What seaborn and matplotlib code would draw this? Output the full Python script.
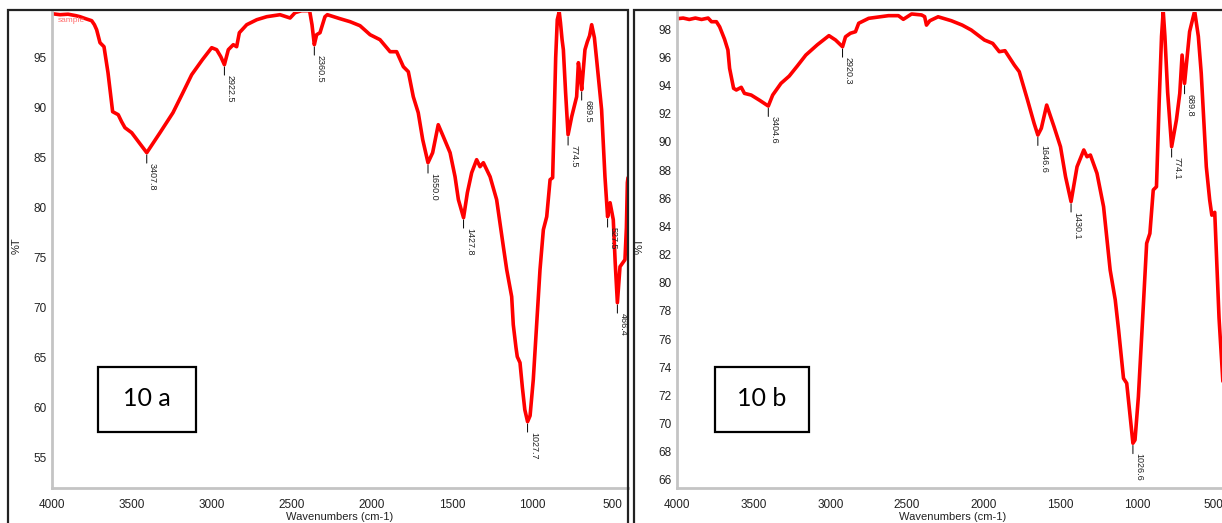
import numpy as np
import pandas as pd
import matplotlib
matplotlib.use("Agg")
import matplotlib.pyplot as plt
from matplotlib.patches import Rectangle
from matplotlib.ticker import MultipleLocator, FixedLocator
import seaborn as sns

# ---------------- data ----------------
wn_a = [4000, 3950, 3900, 3850, 3825, 3790, 3752, 3735, 3721, 3700, 3675, 3650, 3621, 3586,
        3565, 3544, 3502, 3455, 3407.8, 3325, 3244, 3185, 3127, 3060, 3002, 2971, 2945,
        2922.5, 2898, 2867, 2846, 2829, 2783, 2720, 2658, 2575, 2512, 2481, 2440, 2390,
        2375, 2360.5, 2346, 2325, 2294, 2279, 2200, 2137, 2075, 2012, 1950, 1887, 1846,
        1804, 1773, 1742, 1711, 1683, 1650.0, 1621, 1586, 1554, 1512, 1481, 1460, 1427.8,
        1404, 1377, 1346, 1325, 1304, 1262, 1221, 1179, 1158, 1127, 1117, 1100, 1092, 1075,
        1060, 1045, 1027.7, 1012, 992, 971, 950, 929, 908, 887, 871, 862, 852, 842, 830,
        822, 812, 804, 790, 774.5, 752, 721, 710, 700, 689.5, 669, 654, 640, 627, 610, 596,
        565, 544, 527.5, 512, 492, 480, 466.4, 450, 419, 410, 404, 400]
t_a = [99.4, 99.3, 99.35, 99.2, 99.1, 98.9, 98.7, 98.3, 97.8, 96.5, 96.1, 93.5, 89.6, 89.3,
       88.6, 88.0, 87.5, 86.5, 85.5, 87.5, 89.5, 91.4, 93.3, 94.8, 96.0, 95.8, 95.1,
       94.3, 95.8, 96.3, 96.1, 97.5, 98.3, 98.8, 99.1, 99.3, 98.97, 99.5, 99.7, 99.7,
       98.3, 96.3, 97.3, 97.5, 99.1, 99.3, 98.9, 98.6, 98.2, 97.3, 96.8, 95.6, 95.6,
       94.1, 93.6, 91.1, 89.5, 86.8, 84.5, 85.5, 88.3, 87.1, 85.5, 83.1, 80.8, 79.0,
       81.5, 83.5, 84.8, 84.1, 84.5, 83.1, 80.8, 76.1, 73.8, 71.1, 68.3, 66.0, 65.1, 64.5,
       62.0, 59.8, 58.6, 59.2, 62.8, 68.3, 73.8, 77.8, 79.1, 82.8, 83.0, 88.5, 95.0, 98.8, 99.6,
       98.5, 96.8, 95.8, 91.5, 87.3, 89.1, 91.1, 94.5, 93.3, 91.8, 95.8, 96.6, 97.2, 98.3, 97.0, 94.8,
       89.8, 83.1, 79.1, 80.5, 78.8, 74.5, 70.5, 74.1, 74.8, 78.0, 82.5, 83.0]
peaks_a = [3407.8, 2922.5, 2360.5, 1650.0, 1427.8, 1027.7, 774.5, 689.5, 527.5, 466.4]
peak_labels_a = ["3407.8", "2922.5", "2360.5", "1650.0", "1427.8", "1027.7",
                 "774.5", "689.5", "527.5", "466.4"]

wn_b = [4000, 3960, 3920, 3880, 3840, 3797, 3775, 3743, 3722, 3690, 3668, 3657, 3631, 3613,
        3581, 3560, 3516, 3460, 3404.6, 3376, 3322, 3268, 3215, 3160, 3085, 3009, 2966,
        2920.3, 2901, 2869, 2836, 2815, 2750, 2621, 2556, 2524, 2470, 2405, 2385, 2373,
        2351, 2297, 2211, 2140, 2081, 1995, 1941, 1898, 1861, 1800, 1768, 1714, 1671,
        1646.6, 1624, 1589, 1541, 1499, 1466, 1430.1, 1391, 1347, 1326, 1304, 1261, 1218,
        1175, 1142, 1120, 1088, 1067, 1026.6, 1013, 991, 963, 937, 916, 894, 873, 855, 840,
        829, 818, 800, 774.1, 743, 721, 706, 689.8, 657, 624, 600, 581, 548, 526, 512, 493,
        480, 465, 440]
t_b = [98.75, 98.8, 98.7, 98.8, 98.7, 98.8, 98.54, 98.54, 98.18, 97.3, 96.53, 95.23, 93.81, 93.69,
       93.88, 93.45, 93.33, 92.95, 92.55, 93.33, 94.16, 94.68, 95.4, 96.17, 96.9, 97.55, 97.24,
       96.76, 97.47, 97.72, 97.83, 98.43, 98.78, 98.97, 98.97, 98.71, 99.09, 99.02, 98.9, 98.3,
       98.61, 98.89, 98.61, 98.3, 97.95, 97.24, 97.0, 96.41, 96.48, 95.46, 94.99, 92.98, 91.32,
       90.49, 90.97, 92.62, 91.08, 89.66, 87.53, 85.76, 88.24, 89.43, 88.95, 89.07, 87.77, 85.4,
       80.9, 78.79, 76.64, 73.21, 72.86, 68.6, 68.83, 71.9, 77.5, 82.8, 83.5, 86.59, 86.82, 92.98, 97.5,
       99.3, 97.5, 93.5, 89.66, 91.56, 93.45, 96.17, 94.16, 97.83, 99.3, 97.5, 94.87, 88.24, 85.88, 84.8, 85.0,
       81.5, 77.5, 73.0]
peaks_b = [3404.6, 2920.3, 1646.6, 1430.1, 1026.6, 774.1, 689.8]
peak_labels_b = ["3404.6", "2920.3", "1646.6", "1430.1", "1026.6", "774.1", "689.8"]

x_ticks = [4000, 3500, 3000, 2500, 2000, 1500, 1000, 500]
y_ticks_a = [55, 60, 65, 70, 75, 80, 85, 90, 95]
y_ticks_b = [66, 68, 70, 72, 74, 76, 78, 80, 82, 84, 86, 88, 90, 92, 94, 96, 98]
panel_labels = ["10 a", "10 b"]

# ---------------- style ----------------
sns.set_style("white")
plt.rcParams["font.family"] = ["Liberation Sans Narrow", "Liberation Sans", "DejaVu Sans"]

W, H = 1222, 523
fig = plt.figure(figsize=(W / 100, H / 100), dpi=100)


def fr(x0, y0, x1, y1):
    return [x0 / W, 1 - y1 / H, (x1 - x0) / W, (y1 - y0) / H]


axA = fig.add_axes(fr(52, 12, 628, 488))
axB = fig.add_axes(fr(677, 12, 1229, 488))

spec = [
    (axA, wn_a, t_a, peaks_a, peak_labels_a, y_ticks_a, 1, (51.97, 99.57), -0.052),
    (axB, wn_b, t_b, peaks_b, peak_labels_b, y_ticks_b, 0.5, (65.42, 99.23), -0.058),
]

for ax, wn, tt, pk, pkl, yt, ymin, ylim, ylab_x in spec:
    df = pd.DataFrame({"Wavenumber": wn, "T": tt})
    sns.lineplot(data=df, x="Wavenumber", y="T", ax=ax, color="#ff0000",
                 linewidth=2.6, sort=False, estimator=None)
    ax.set_xlim(4000, 400)
    ax.set_ylim(*ylim)
    ax.set_facecolor("white")
    for s in ["top", "right"]:
        ax.spines[s].set_visible(False)
    for s in ["left", "bottom"]:
        ax.spines[s].set_color("#c4c4c4")
        ax.spines[s].set_linewidth(2)
    ax.xaxis.set_major_locator(FixedLocator(x_ticks))
    ax.xaxis.set_minor_locator(MultipleLocator(100))
    ax.yaxis.set_major_locator(FixedLocator(yt))
    ax.yaxis.set_minor_locator(MultipleLocator(ymin))
    ax.set_xticklabels([str(v) for v in x_ticks])
    ax.set_yticklabels([str(v) for v in yt])
    ax.tick_params(axis="both", which="major", direction="out", length=3, width=0.8,
                   color="#444444", labelsize=8.5, labelcolor="#222222", pad=1)
    ax.tick_params(axis="both", which="minor", direction="out", length=2, width=0.7,
                   color="#666666")
    ax.tick_params(axis="x", which="major", pad=5)
    ax.set_xlabel("Wavenumbers (cm-1)", fontsize=8, color="#222222")
    ax.xaxis.set_label_coords(0.5, -0.050)
    ax.set_ylabel("%T", fontsize=8, color="#222222")
    ax.yaxis.set_label_coords(ylab_x, 0.51)

    xs = np.array(wn)[::-1]
    ys = np.array(tt)[::-1]
    for p, lab in zip(pk, pkl):
        yv = float(np.interp(p, xs, ys))
        ax.annotate("", xy=(p, yv), xytext=(0, -7.5), textcoords="offset points",
                    arrowprops=dict(arrowstyle="-", color="black", lw=0.7,
                                    shrinkA=0, shrinkB=1.6))
        ax.annotate(lab, xy=(p, yv), xytext=(4.2, -7.3), textcoords="offset points",
                    rotation=-90, ha="center", va="top", fontsize=6.5, color="#222222")

# faint "sample" tag
fig.text(58 / W, 1 - 20 / H, "sample", color="#ff7070", fontsize=6, va="center", ha="left")

# outer frames (panel borders)
for (x0, y0, x1, y1) in [(8, 10, 628, 545), (634, 10, 1240, 545)]:
    fig.add_artist(Rectangle((x0 / W, 1 - y1 / H), (x1 - x0) / W, (y1 - y0) / H,
                             transform=fig.transFigure, fill=False, lw=1.6,
                             edgecolor="#222222", clip_on=False))

# panel name boxes
for (x0, y0, x1, y1), lab in zip([(98, 367, 196, 432), (715, 367, 809, 432)], panel_labels):
    fig.add_artist(Rectangle((x0 / W, 1 - y1 / H), (x1 - x0) / W, (y1 - y0) / H,
                             transform=fig.transFigure, fill=True, facecolor="white",
                             lw=1.6, edgecolor="black"))
    fig.text((x0 + x1) / 2 / W, 1 - ((y0 + y1) / 2 - 1) / H, lab, family=["Lato", "DejaVu Sans"],
             fontsize=18, ha="center", va="center", color="black")

fig.savefig("out.png", dpi=100)
